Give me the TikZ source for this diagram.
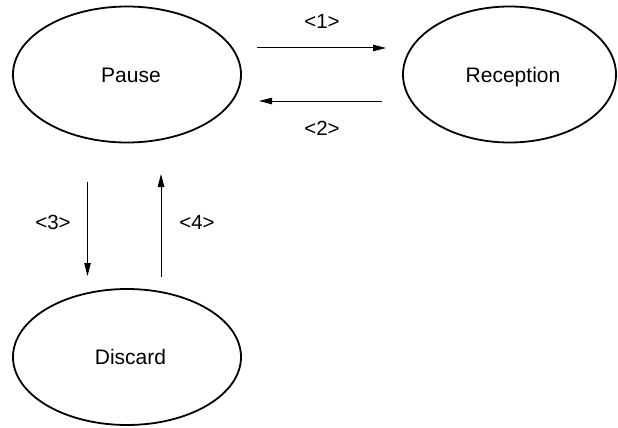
\documentclass[tikz,border=0pt]{standalone}
\usepackage{fontspec}
\setmainfont{Liberation Sans}
\usetikzlibrary{shapes.geometric,arrows.meta}
\begin{document}
\begin{tikzpicture}[x=1pt,y=-1pt,
  state/.style={ellipse,draw,line width=1.8pt,inner sep=0pt,font=\fontsize{21}{24}\selectfont,text height=15pt,text depth=0pt},
  lbl/.style={inner sep=0pt,font=\fontsize{20.5}{24}\selectfont,text height=14.7pt,text depth=0pt},
  flow/.style={line width=1pt,-{Triangle[length=13pt,width=6.5pt]}}]
\useasboundingbox (0,0) rectangle (618,428);
\node[state,minimum width=228pt,minimum height=136pt] (pause) at (127,74.5) {\hspace*{8pt}Pause};
\node[state,minimum width=213pt,minimum height=136pt] (reception) at (509.5,74.5) {\hspace*{7pt}Reception};
\node[state,minimum width=228pt,minimum height=136pt] (discard) at (127,357) {\hspace*{7pt}Discard};
\coordinate (a1s) at (257,48);
\coordinate (a1e) at (386,48);
\coordinate (a2s) at (382,101);
\coordinate (a2e) at (259,101);
\coordinate (a3s) at (87.5,182);
\coordinate (a3e) at (87.5,276);
\coordinate (a4s) at (161,277);
\coordinate (a4e) at (161,174);
\draw[flow] (a1s) -- (a1e);
\draw[flow] (a2s) -- (a2e);
\draw[flow] (a3s) -- (a3e);
\draw[flow] (a4s) -- (a4e);
\node[lbl] (l1) at (322,21) {<1>};
\node[lbl] (l2) at (322,128) {<2>};
\node[lbl] (l3) at (53,222) {<3>};
\node[lbl] (l4) at (197,222) {<4>};
\end{tikzpicture}
\end{document}
